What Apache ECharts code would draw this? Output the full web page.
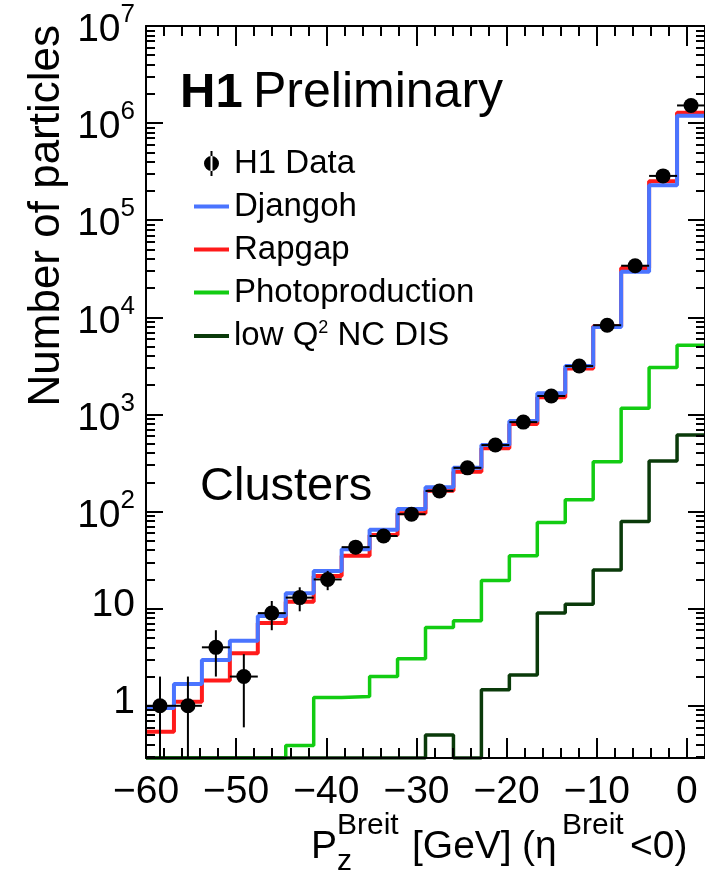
<!DOCTYPE html>
<html>
<head>
<meta charset="utf-8">
<script src="https://cdn.jsdelivr.net/npm/echarts@6/dist/echarts.min.js"></script>
<style>
  html, body { margin: 0; padding: 0; background: #fff; }
  #chart { width: 705px; height: 880px; }
</style>
</head>
<body>
<div id="chart"></div>
<script>
// Bin edges of P_z^Breit [GeV] (20 bins)
const binEdges = [-60, -56.9, -53.8, -50.7, -47.6, -44.5, -41.4, -38.3, -35.2, -32.1, -29,
                  -25.9, -22.8, -19.7, -16.6, -13.5, -10.4, -7.3, -4.2, -1.1, 2];

// Measured cluster counts and their uncertainties
const h1Data = [1, 1, 4, 2, 9, 13, 20, 43, 56, 94, 163, 282, 484, 834, 1550, 3150, 8300, 34000, 286000, 1520000];
const h1Err  = [1, 1, 2, 1.4, 3, 3.6, 4.5, 6.6, 7.5, 9.7, 12.8, 16.8, 22, 29, 39, 56, 91, 184, 535, 1230];

// Monte Carlo predictions
const djangoh         = [0.95, 1.68, 2.97, 4.67, 8.4, 14.4, 24.5, 41, 65, 106, 178, 283, 484, 855, 1650, 3150, 7950, 29400, 229000, 1190000];
const rapgap          = [0.54, 1.1, 1.82, 3.48, 7.1, 11.8, 21.7, 35, 57.5, 96, 164, 257, 448, 797, 1500, 2980, 8100, 32300, 252000, 1280000];
const photoproduction = [0, 0, 0, 0, 0, 0.39, 1.22, 1.25, 2.0, 3.05, 6.4, 7.5, 19.5, 35, 77, 132, 326, 1156, 3050, 5170];
const lowQ2NCDIS      = [0, 0, 0, 0, 0, 0, 0, 0, 0, 0, 0.5, 0, 1.46, 2.08, 9.0, 11.1, 25, 79, 331, 614];

// Axis ticks
const xMajorTicks = [-60, -50, -40, -30, -20, -10, 0];
const xMinorTicks = [-58, -56, -54, -52, -48, -46, -44, -42, -38, -36, -34, -32, -28, -26, -24, -22,
                     -18, -16, -14, -12, -8, -6, -4, -2];
const yMajorTicks = [1, 10, 100, 1000, 10000, 100000, 1000000, 10000000];
const yMinorTicks = [];
for (let p = -1; p <= 6; p++) {
  for (let m = 2; m <= 9; m++) {
    const v = m * Math.pow(10, p);
    if (v > 0.29) yMinorTicks.push(v);
  }
}

const yMin = 0.29;
const yMax = 1.0000001e7;
const FONT = "'Liberation Sans', Arial, Helvetica, sans-serif";

// Empty bins sit on the bottom of the frame
const drawVal = v => (v > 0 ? v : yMin);

function stepSeries(name, values, color, width, z) {
  return {
    type: 'line',
    name: name,
    step: 'end',
    data: binEdges.map((e, i) => [e, drawVal(values[Math.min(i, values.length - 1)])]),
    symbol: 'none',
    showSymbol: false,
    lineStyle: { color: color, width: width },
    itemStyle: { color: color },
    z: z,
    clip: true,
    silent: true
  };
}

const black = '#000';
function xAxisDef(pos, ticks, len, showLine, showLabel) {
  return {
    type: 'value', position: pos, min: -60, max: 2, interval: 2, z: 5,
    axisLine: { show: showLine, onZero: false, lineStyle: { color: black, width: 2 } },
    axisTick: { show: true, inside: true, length: len, customValues: ticks, lineStyle: { color: black, width: 2 } },
    axisLabel: showLabel ? {
      customValues: ticks, margin: 14, color: black, fontSize: 39, fontFamily: FONT, lineHeight: 40,
      formatter: v => (v < 0 ? '\u2212' + Math.abs(v) : String(v))
    } : { show: false },
    splitLine: { show: false }
  };
}

function yLabel(v) {
  const n = Math.round(Math.log10(v));
  if (n === 0) return '{b|1}';
  if (n === 1) return '{b|10}';
  return '{sp|\u200b}{b|10}{s|' + n + '}';
}

function yAxisDef(pos, ticks, len, showLine, showLabel) {
  return {
    type: 'log', logBase: 10, position: pos, min: yMin, max: yMax, z: 5,
    axisLine: { show: showLine, onZero: false, lineStyle: { color: black, width: 2 } },
    axisTick: { show: true, inside: true, length: len, customValues: ticks, lineStyle: { color: black, width: 2 } },
    axisLabel: showLabel ? {
      customValues: ticks, margin: 11, color: black, fontFamily: FONT,
      formatter: yLabel,
      rich: {
        b: { fontSize: 39, fontFamily: FONT, color: black, lineHeight: 32, verticalAlign: 'bottom' },
        s: { fontSize: 26, fontFamily: FONT, color: black, lineHeight: 17, verticalAlign: 'top' },
        sp: { fontSize: 10, lineHeight: 48 }
      }
    } : { show: false },
    splitLine: { show: false }
  };
}

// Legend glyphs; the leading move-to points fix each glyph's box to 35x25
const dataIcon = 'path://M0 0 M35 25 M16.5 0 L18.5 0 L18.5 25 L16.5 25 Z ' +
                 'M10 12.5 A7.5 7.5 0 1 0 25 12.5 A7.5 7.5 0 1 0 10 12.5 Z';
const lineIcon = 'path://M0 0 M35 25 M0 10.5 L35 10.5 L35 14.5 L0 14.5 Z';

const chart = echarts.init(document.getElementById('chart'), null, { renderer: 'canvas' });

const textPiece = (str, x, y, size) => ({
  type: 'text', x: x, y: y, z: 20,
  style: { text: str, font: size + 'px ' + FONT, fill: black, verticalAlign: 'middle' }
});

const option = {
  animation: false,
  backgroundColor: '#fff',
  grid: { left: 146, top: 26, width: 559, height: 732, containLabel: false, outerBoundsMode: 'none' },
  xAxis: [
    xAxisDef('bottom', xMajorTicks, 20, true, true),
    xAxisDef('bottom', xMinorTicks, 10, false, false),
    xAxisDef('top', xMajorTicks, 20, true, false),
    xAxisDef('top', xMinorTicks, 10, false, false)
  ],
  yAxis: [
    yAxisDef('left', yMajorTicks, 17, true, true),
    yAxisDef('left', yMinorTicks, 9, false, false),
    yAxisDef('right', yMajorTicks, 17, true, false),
    yAxisDef('right', yMinorTicks, 9, false, false)
  ],
  legend: {
    orient: 'vertical', left: 194, top: 147, padding: 0,
    itemWidth: 35, itemHeight: 25, itemGap: 10,
    selectedMode: false,
    textStyle: {
      color: black, fontFamily: FONT, fontSize: 33,
      rich: {
        t: { fontSize: 33, fontFamily: FONT, color: black, lineHeight: 34 },
        s: { fontSize: 18, fontFamily: FONT, color: black, lineHeight: 14, verticalAlign: 'top' }
      }
    },
    formatter: name => (name === 'low Q2 NC DIS' ? '{t|low Q}{s|2}{t| NC DIS}' : '{t|' + name + '}'),
    data: [
      { name: 'H1 Data', icon: dataIcon, itemStyle: { color: black } },
      { name: 'Djangoh', icon: lineIcon },
      { name: 'Rapgap', icon: lineIcon },
      { name: 'Photoproduction', icon: lineIcon },
      { name: 'low Q2 NC DIS', icon: lineIcon }
    ]
  },
  series: [
    stepSeries('Photoproduction', photoproduction, '#12cc12', 3.5, 2),
    stepSeries('low Q2 NC DIS', lowQ2NCDIS, '#0a3a0a', 3.5, 2),
    stepSeries('Rapgap', rapgap, '#ff1a1a', 4, 3),
    stepSeries('Djangoh', djangoh, '#4a74ff', 4, 4),
    {
      type: 'custom',
      name: 'H1 Data',
      itemStyle: { color: black },
      data: h1Data.map((v, i) => [(binEdges[i] + binEdges[i + 1]) / 2, v, h1Err[i], binEdges[i], binEdges[i + 1]]),
      encode: { x: 0, y: 1 },
      z: 10,
      clip: true,
      silent: true,
      renderItem: function (params, api) {
        const xc = api.value(0), v = api.value(1), e = api.value(2);
        const p = api.coord([xc, v]);
        const pl = api.coord([api.value(3), v]);
        const pr = api.coord([api.value(4), v]);
        const lo = api.coord([xc, Math.max(v - e, yMin)]);
        const hi = api.coord([xc, v + e]);
        return {
          type: 'group',
          children: [
            { type: 'line', shape: { x1: pl[0], y1: p[1], x2: pr[0], y2: p[1] }, style: { stroke: black, lineWidth: 2 } },
            { type: 'line', shape: { x1: p[0], y1: lo[1], x2: p[0], y2: hi[1] }, style: { stroke: black, lineWidth: 2 } },
            { type: 'circle', shape: { cx: p[0], cy: p[1], r: 7.5 }, style: { fill: black } }
          ]
        };
      }
    }
  ],
  graphic: [
    { type: 'text', x: 180, y: 93, z: 20, style: { text: 'H1', font: 'bold 49px ' + FONT, fill: black, verticalAlign: 'middle' } },
    textPiece('Preliminary', 253, 93, 50),
    textPiece('Clusters', 200, 487, 47),
    { type: 'text', x: 47, y: 25, rotation: Math.PI / 2, z: 20,
      style: { text: 'Number of particles', font: '44px ' + FONT, fill: black, align: 'right', verticalAlign: 'middle' } },
    // P_z^Breit [GeV] (eta^Breit < 0)
    textPiece('P', 311, 847, 39),
    textPiece('Breit', 337, 826, 30),
    textPiece('z', 337, 862, 30),
    textPiece('[GeV]', 412, 847, 39),
    textPiece('(\u03b7', 522, 847, 39),
    textPiece('Breit', 562, 826, 30),
    textPiece('<0)', 630, 847, 39)
  ]
};

chart.setOption(option);
</script>
</body>
</html>
